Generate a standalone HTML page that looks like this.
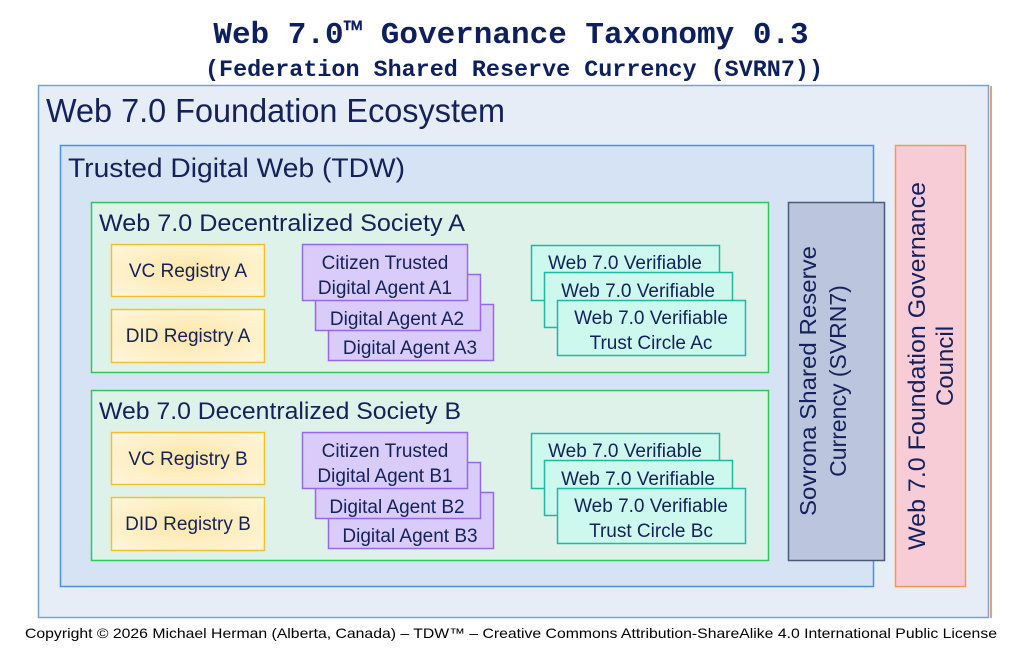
<!DOCTYPE html>
<html><head><meta charset="utf-8"><style>
body{margin:0;background:#fff;}
svg text{font-family:"Liberation Sans",sans-serif;fill:#14215a;}
.m{font-family:"Liberation Mono",monospace;font-weight:bold;fill:#0d1f5c;}
</style></head><body>
<svg width="1023" height="653" viewBox="0 0 1023 653" xmlns="http://www.w3.org/2000/svg">
<defs>
<radialGradient id="yg" cx="0.5" cy="0.5" r="0.7">
<stop offset="0" stop-color="#fde7a8"/><stop offset="1" stop-color="#fef6dc"/></radialGradient>
</defs>
<text class="m" x="511" y="43" font-size="31" text-anchor="middle">Web 7.0™ Governance Taxonomy 0.3</text>
<text class="m" x="514" y="76" font-size="23" text-anchor="middle" textLength="618" lengthAdjust="spacingAndGlyphs">(Federation Shared Reserve Currency (SVRN7))</text>

<rect x="990" y="86" width="2" height="532" fill="#e8a070"/>
<rect x="38.5" y="85.5" width="950" height="532" fill="#e6edf7" stroke="#7f9fcf" stroke-width="1.5"/>
<text x="46" y="122" font-size="33" textLength="459" lengthAdjust="spacingAndGlyphs">Web 7.0 Foundation Ecosystem</text>

<rect x="60.5" y="145.5" width="813" height="441" fill="#d6e3f4" stroke="#4d8ef0" stroke-width="1.5"/>
<text x="68" y="177" font-size="27" textLength="337" lengthAdjust="spacingAndGlyphs">Trusted Digital Web (TDW)</text>

<rect x="895.5" y="145.5" width="70" height="441" fill="#f7ccd6" stroke="#f59a4a" stroke-width="1.5"/>
<text transform="translate(925,366) rotate(-90)" font-size="24" text-anchor="middle" textLength="368" lengthAdjust="spacingAndGlyphs">Web 7.0 Foundation Governance</text>
<text transform="translate(953,366) rotate(-90)" font-size="24" text-anchor="middle">Council</text>

<rect x="788.5" y="202.5" width="96" height="358" fill="#bcc5de" stroke="#4a5a7a" stroke-width="1.5"/>
<text transform="translate(816,381) rotate(-90)" font-size="23" text-anchor="middle" textLength="270" lengthAdjust="spacingAndGlyphs">Sovrona Shared Reserve</text>
<text transform="translate(846,381) rotate(-90)" font-size="23" text-anchor="middle">Currency (SVRN7)</text>

<g>
<rect x="91.5" y="202.5" width="677" height="170" fill="#def2ea" stroke="#2ec75a" stroke-width="1.5"/>
<text x="99" y="231" font-size="24" textLength="366" lengthAdjust="spacingAndGlyphs">Web 7.0 Decentralized Society A</text>
<rect x="111.5" y="244.5" width="153" height="52" fill="url(#yg)" stroke="#f5c030" stroke-width="1.5"/>
<text x="188" y="277" font-size="19" text-anchor="middle">VC Registry A</text>
<rect x="111.5" y="309.5" width="153" height="53" fill="url(#yg)" stroke="#f5c030" stroke-width="1.5"/>
<text x="188" y="342" font-size="19" text-anchor="middle">DID Registry A</text>
<rect x="328.5" y="304.5" width="165" height="56" fill="#d9ccfa" stroke="#9966ee" stroke-width="1.5"/>
<text x="410" y="354" font-size="19" text-anchor="middle">Digital Agent A3</text>
<rect x="315.5" y="274.5" width="165" height="56" fill="#d9ccfa" stroke="#9966ee" stroke-width="1.5"/>
<text x="397" y="325" font-size="19" text-anchor="middle">Digital Agent A2</text>
<rect x="302.5" y="244.5" width="165" height="56" fill="#d9ccfa" stroke="#9966ee" stroke-width="1.5"/>
<text x="385" y="269" font-size="19" text-anchor="middle">Citizen Trusted</text>
<text x="385" y="294" font-size="19" text-anchor="middle">Digital Agent A1</text>
<rect x="531.5" y="245.5" width="188" height="55" fill="#ccf8ee" stroke="#20b8a0" stroke-width="1.5"/>
<text x="625" y="269" font-size="19" text-anchor="middle">Web 7.0 Verifiable</text>
<rect x="544.5" y="272.5" width="188" height="55" fill="#ccf8ee" stroke="#20b8a0" stroke-width="1.5"/>
<text x="638" y="297" font-size="19" text-anchor="middle">Web 7.0 Verifiable</text>
<rect x="557.5" y="300.5" width="188" height="55" fill="#ccf8ee" stroke="#20b8a0" stroke-width="1.5"/>
<text x="651" y="324" font-size="19" text-anchor="middle">Web 7.0 Verifiable</text>
<text x="651" y="349" font-size="19" text-anchor="middle">Trust Circle Ac</text>
</g>

<g transform="translate(0,188)">
<rect x="91.5" y="202.5" width="677" height="170" fill="#def2ea" stroke="#2ec75a" stroke-width="1.5"/>
<text x="99" y="231" font-size="24" textLength="362" lengthAdjust="spacingAndGlyphs">Web 7.0 Decentralized Society B</text>
<rect x="111.5" y="244.5" width="153" height="52" fill="url(#yg)" stroke="#f5c030" stroke-width="1.5"/>
<text x="188" y="277" font-size="19" text-anchor="middle">VC Registry B</text>
<rect x="111.5" y="309.5" width="153" height="53" fill="url(#yg)" stroke="#f5c030" stroke-width="1.5"/>
<text x="188" y="342" font-size="19" text-anchor="middle">DID Registry B</text>
<rect x="328.5" y="304.5" width="165" height="56" fill="#d9ccfa" stroke="#9966ee" stroke-width="1.5"/>
<text x="410" y="354" font-size="19" text-anchor="middle">Digital Agent B3</text>
<rect x="315.5" y="274.5" width="165" height="56" fill="#d9ccfa" stroke="#9966ee" stroke-width="1.5"/>
<text x="397" y="325" font-size="19" text-anchor="middle">Digital Agent B2</text>
<rect x="302.5" y="244.5" width="165" height="56" fill="#d9ccfa" stroke="#9966ee" stroke-width="1.5"/>
<text x="385" y="269" font-size="19" text-anchor="middle">Citizen Trusted</text>
<text x="385" y="294" font-size="19" text-anchor="middle">Digital Agent B1</text>
<rect x="531.5" y="245.5" width="188" height="55" fill="#ccf8ee" stroke="#20b8a0" stroke-width="1.5"/>
<text x="625" y="269" font-size="19" text-anchor="middle">Web 7.0 Verifiable</text>
<rect x="544.5" y="272.5" width="188" height="55" fill="#ccf8ee" stroke="#20b8a0" stroke-width="1.5"/>
<text x="638" y="297" font-size="19" text-anchor="middle">Web 7.0 Verifiable</text>
<rect x="557.5" y="300.5" width="188" height="55" fill="#ccf8ee" stroke="#20b8a0" stroke-width="1.5"/>
<text x="651" y="324" font-size="19" text-anchor="middle">Web 7.0 Verifiable</text>
<text x="651" y="349" font-size="19" text-anchor="middle">Trust Circle Bc</text>
</g>

<text x="511" y="638" font-size="14" text-anchor="middle" style="fill:#000" textLength="972" lengthAdjust="spacingAndGlyphs">Copyright © 2026 Michael Herman (Alberta, Canada) – TDW™ – Creative Commons Attribution-ShareAlike 4.0 International Public License</text>
</svg>
</body></html>
